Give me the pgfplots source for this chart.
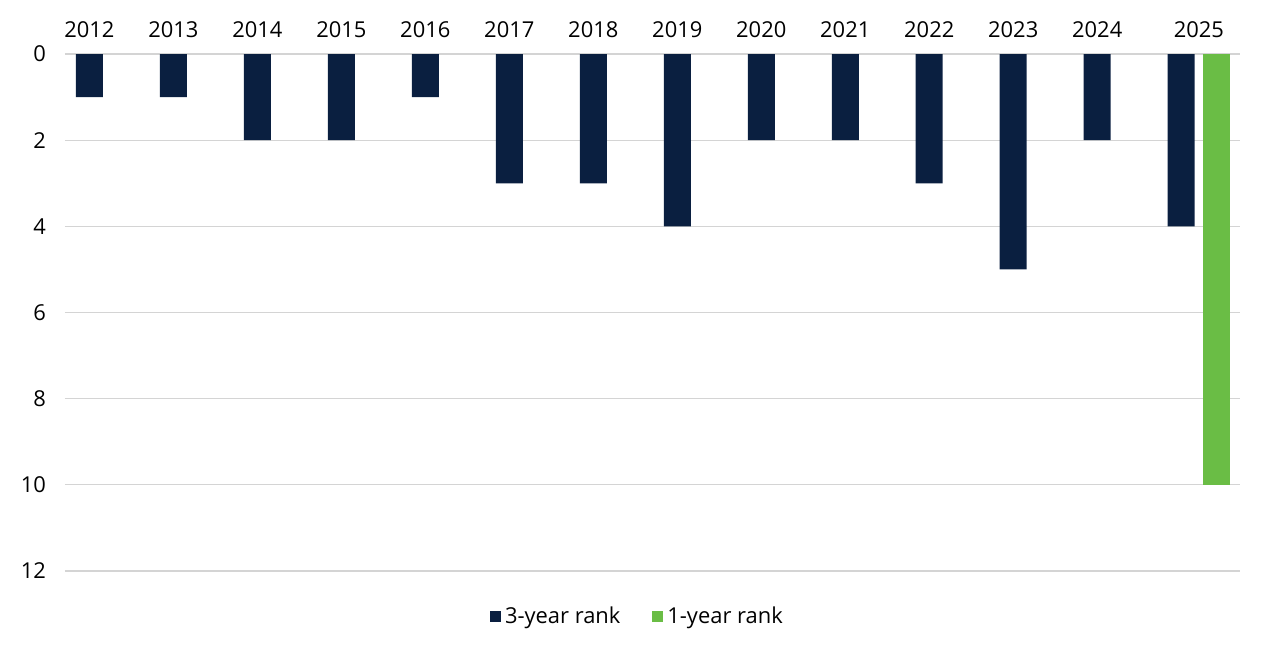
\documentclass[border=0pt]{standalone}
\usepackage{fontspec}
\setmainfont{Open Sans}
\usepackage{pgfplots}
\pgfplotsset{compat=1.18}
\definecolor{navy}{HTML}{0A1F40}
\definecolor{leaf}{HTML}{6ABD45}
\definecolor{gridgray}{HTML}{D4D4D4}

\begin{document}
\begin{tikzpicture}
\begin{axis}[
    scale only axis,
    width=587.5bp, height=258.5bp,
    xmin=-0.29, xmax=13.7,
    ymin=0, ymax=12,
    y dir=reverse,
    ytick={0,2,...,12},
    xtick={0,1,...,12,13.21},
    xticklabels={2012,2013,2014,2015,2016,2017,2018,2019,2020,2021,2022,2023,2024,2025},
    xticklabel pos=top,
    major tick length=0pt,
    axis line style={draw=none},
    ymajorgrids=true,
    grid style={gridgray, line width=0.6pt},
    ticklabel style={font=\fontsize{11}{13}\selectfont},
    /pgf/number format/assume math mode=true,
    yticklabel style={xshift=-6bp},
    xticklabel style={yshift=4.5bp},
    ybar, bar width=13.5bp, bar shift=0pt,
    legend columns=2,
    legend style={draw=none, font=\fontsize{11}{13}\selectfont,
        at={(0.488,-0.088)}, anchor=center,
        /tikz/every even column/.append style={column sep=14bp}},
    legend image code/.code={\fill[#1] (0bp,-2.75bp) rectangle (5.5bp,2.75bp);},
]
\addplot[fill=navy, draw=none] coordinates {
    (0,1) (1,1) (2,2) (3,2) (4,1) (5,3) (6,3)
    (7,4) (8,2) (9,2) (10,3) (11,5) (12,2) (13,4)};
\addlegendentry{3-year rank}
\addplot[fill=leaf, draw=none] coordinates {(13.417,10)};
\addlegendentry{1-year rank}
\end{axis}
\useasboundingbox ([xshift=-32.5bp, yshift=-37bp]current axis.south west)
    rectangle ([xshift=20bp, yshift=27bp]current axis.north east);
\end{tikzpicture}
\end{document}
